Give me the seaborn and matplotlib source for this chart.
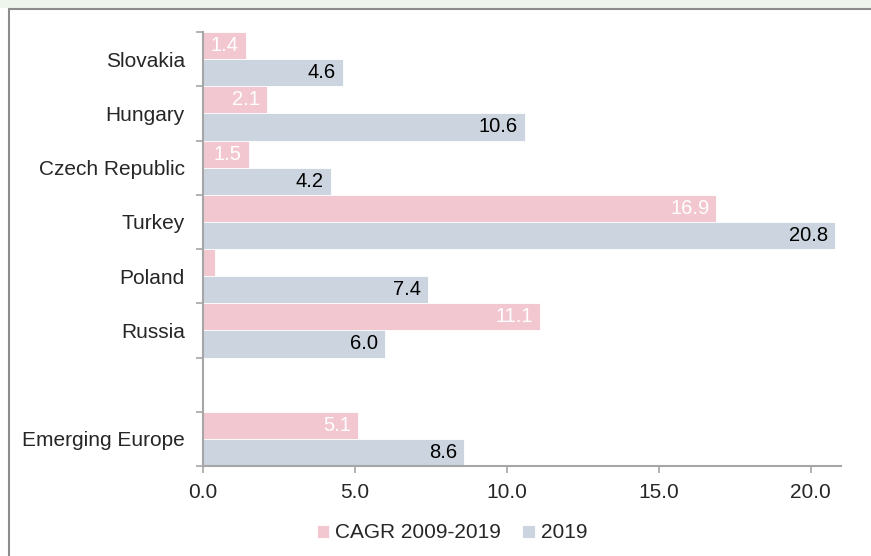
import pandas as pd
import matplotlib.pyplot as plt
import seaborn as sns
from matplotlib.lines import Line2D
from matplotlib.patches import Rectangle

# Chart data
countries = ["Slovakia", "Hungary", "Czech Republic", "Turkey", "Poland", "Russia", " ", "Emerging Europe"]
cagr = [1.4, 2.1, 1.5, 16.9, 0.4, 11.1, None, 5.1]
val_2019 = [4.6, 10.6, 4.2, 20.8, 7.4, 6.0, None, 8.6]
series = ["CAGR 2009-2019", "2019"]
x_ticks = [0, 5, 10, 15, 20]

pink = "#F2C7D0"
grey = "#CBD4DF"
axis_grey = "#A6A6A6"

df = pd.DataFrame({
    "Country": countries * 2,
    "Series": [series[0]] * len(countries) + [series[1]] * len(countries),
    "Value": cagr + val_2019,
})
df = df.dropna()

sns.set_style("white")
plt.rcParams["font.family"] = ["Liberation Sans", "DejaVu Sans"]

fig = plt.figure(figsize=(8.71, 5.56), dpi=100)
ax = fig.add_axes([203 / 871, 1 - 466 / 556, (841 - 203) / 871, (466 - 32) / 556])

sns.barplot(data=df, y="Country", x="Value", hue="Series", order=countries,
            hue_order=series, palette=[pink, grey], orient="h", width=1.0,
            saturation=1, edgecolor="white", linewidth=0.6, ax=ax, legend=True)

# value labels inside the bar end
for cont, col in zip(ax.containers, ["white", "black"]):
    anns = ax.bar_label(cont, fmt=lambda v: "" if v < 1 else f"{v:.1f}",
                        padding=-5, color=col, fontsize=14.5)
    for a in anns:
        a.set_horizontalalignment("right")

ax.set_xlim(0, 21)
ax.set_ylim(len(countries) - 0.5, -0.5)
ax.set_xticks(x_ticks)
ax.set_xticklabels([f"{t:.1f}" for t in x_ticks], fontsize=15)
ax.set_xlabel("")
ax.set_ylabel("")
ax.tick_params(axis="y", length=0, pad=13, labelsize=15)
ax.set_yticks([i - 0.5 for i in range(len(countries) + 1)], minor=True)
ax.tick_params(axis="y", which="minor", length=5, width=1.2, color=axis_grey, left=True)
ax.tick_params(axis="x", length=5, width=1.2, color=axis_grey, bottom=True, pad=7)

for s in ["top", "right"]:
    ax.spines[s].set_visible(False)
for s in ["left", "bottom"]:
    ax.spines[s].set_color(axis_grey)
    ax.spines[s].set_linewidth(1.5)

leg = ax.legend(loc="center", bbox_to_anchor=(452 / 871, 1 - 533 / 556),
                bbox_transform=fig.transFigure, ncol=2, frameon=False, fontsize=15,
                handlelength=0.6, handleheight=0.6, handletextpad=0.3, columnspacing=1.0)

# outer frame like the source sheet
fig.patches.append(Rectangle((0, 1 - 8 / 556), 1, 8 / 556, transform=fig.transFigure,
                             facecolor="#EEF5EC", edgecolor="none", zorder=0))
fig.lines.append(Line2D([9 / 871, 1], [1 - 9 / 556, 1 - 9 / 556], transform=fig.transFigure,
                        color="#8C8C8C", linewidth=1.5))
fig.lines.append(Line2D([9 / 871, 9 / 871], [0, 1 - 9 / 556], transform=fig.transFigure,
                        color="#8C8C8C", linewidth=1.5))

fig.savefig("out.png", dpi=100)
